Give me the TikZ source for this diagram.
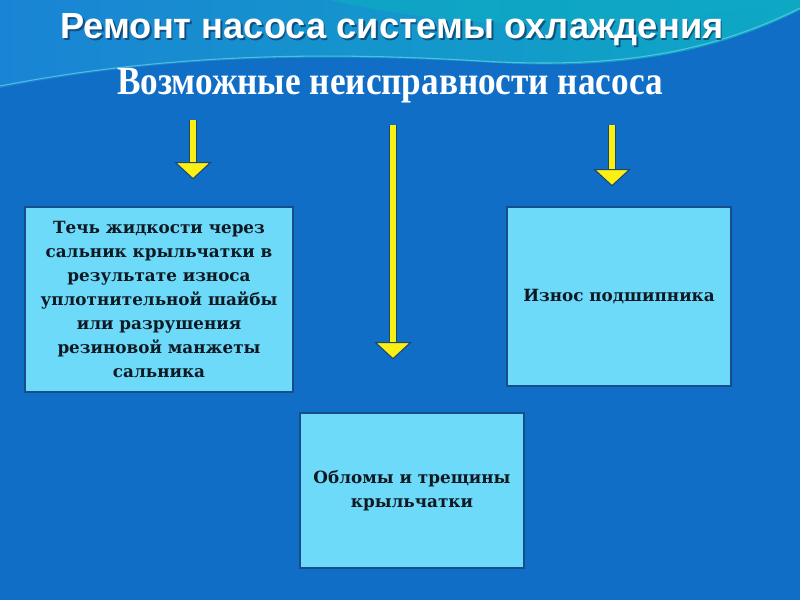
\documentclass[tikz,border=0pt]{standalone}
\usepackage{fontspec}
\setmainfont{DejaVu Serif}
\newfontfamily\headfont{Liberation Sans}
\newfontfamily\subheadfont{Liberation Serif}
\usetikzlibrary{positioning, arrows.meta, calc}
\definecolor{bgblue}{RGB}{16,110,198}
\definecolor{bandleft}{RGB}{26,132,212}
\definecolor{bandright}{RGB}{14,168,196}
\definecolor{wavecyan}{RGB}{120,220,235}
\definecolor{boxfill}{RGB}{108,218,248}
\definecolor{boxline}{RGB}{22,78,140}
\definecolor{boxtext}{RGB}{15,25,35}
\definecolor{arrowfill}{RGB}{250,240,20}
\definecolor{arrowline}{RGB}{30,70,110}
\definecolor{shade}{RGB}{10,40,80}
\tikzset{
  faultbox/.style={
    rectangle, draw=boxline, line width=0.9pt,
    fill=boxfill, text=boxtext,
    align=center, inner sep=4pt,
    font=\fontsize{12.6}{18}\selectfont\bfseries
  },
  headtext/.style={
    text=white, font=\headfont\fontsize{27.2}{30}\selectfont\bfseries
  },
  subheadtext/.style={
    text=white, xscale=0.88, font=\subheadfont\fontsize{30}{34}\selectfont\bfseries
  },
  yarrow/.style={
    draw=arrowline, line width=0.8pt,
    double=arrowfill, double distance=4.8pt,
    -{Triangle[length=13pt, width=28pt, line width=0.8pt, fill=arrowfill, color=arrowline]}
  }
}

\begin{document}
\begin{tikzpicture}[x=0.75pt, y=-0.75pt]
  % background
  \fill[bgblue] (0,0) rectangle (800,600);
  \useasboundingbox (0,0) rectangle (800,600);
  \shade[left color=bandleft, right color=bandright]
    (0,0) -- (800,0) -- (800,10)
    .. controls (700,60) and (600,70) .. (480,62)
    .. controls (300,52) and (150,58) .. (0,88) -- cycle;
  \fill[bandright, opacity=0.8]
    (330,0) .. controls (480,35) and (650,30) .. (800,0) -- cycle;
  \draw[wavecyan, line width=0.8pt, opacity=0.6]
    (0,86) .. controls (150,57) and (300,50) .. (480,61)
    .. controls (600,68) and (700,58) .. (800,8);

  % headings
  \node[headtext, text=shade, opacity=0.6] at (393.5,31.5) {Ремонт насоса системы охлаждения};
  \node[headtext] (title) at (392,30) {Ремонт насоса системы охлаждения};
  \node[subheadtext] (sub) at (390,86) {Возможные неисправности насоса};

  % fault boxes
  \node[faultbox, minimum width=201pt, minimum height=138.75pt] (leak) at (159,299.5)
    {Течь жидкости через\\сальник крыльчатки в\\результате износа\\уплотнительной шайбы\\или разрушения\\резиновой манжеты\\сальника};
  \node[faultbox, minimum width=168pt, minimum height=134.25pt] (bearing) at (619,296.5)
    {Износ подшипника};
  \node[faultbox, minimum width=168pt, minimum height=116.25pt] (impeller) at (412,490.5)
    {Обломы и трещины\\крыльчатки};

  % arrows
  \coordinate (a1) at (193,120);
  \coordinate (a2) at (393,125);
  \coordinate (a3) at (612,125);
  \draw[yarrow, shorten >=20.25pt] (a1) -- (a1 |- leak.north);
  \draw[yarrow, shorten >=39.75pt] (a2) -- (a2 |- impeller.north);
  \draw[yarrow, shorten >=15pt] (a3) -- (a3 |- bearing.north);
\end{tikzpicture}
\end{document}
